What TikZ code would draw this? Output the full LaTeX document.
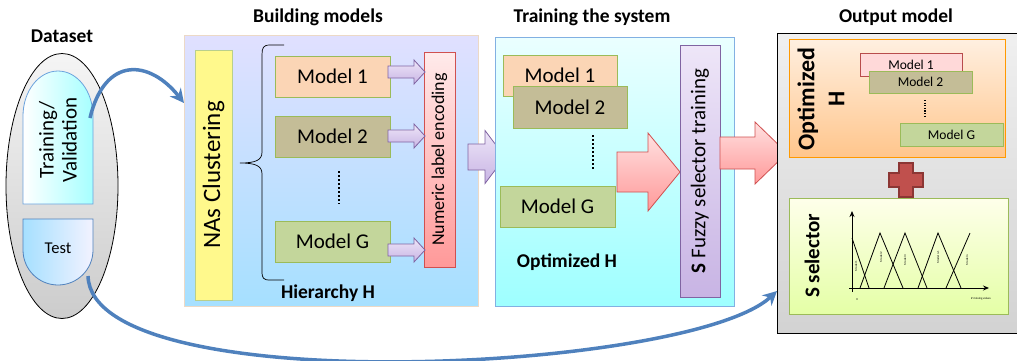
\documentclass[tikz,border=0pt]{standalone}
\usepackage{fontspec}
\setmainfont{Carlito}
\usetikzlibrary{shapes.geometric,arrows.meta,calc}
\definecolor{flow}{HTML}{4F81BD}
\definecolor{peach}{HTML}{FBD5B5}
\definecolor{olive}{HTML}{C4BD97}
\definecolor{lgreen}{HTML}{C3D69B}
\definecolor{gborder}{HTML}{9BBB59}
\definecolor{lav}{HTML}{8064A2}
\definecolor{lavtop}{HTML}{EEE6F8}
\definecolor{lavbot}{HTML}{C8B4E4}
\definecolor{redb}{HTML}{D05050}
\definecolor{crossf}{HTML}{C0504D}
\definecolor{crossd}{HTML}{8C3634}
\newcommand{\barr}[7][]{\path[#1] (#2,{#5-#6}) -- (#4,{#5-#6}) -- (#4,{#5-#7}) -- (#3,#5) -- (#4,{#5+#7}) -- (#4,{#5+#6}) -- (#2,{#5+#6}) -- cycle;}
\tikzset{
  box/.style={draw, inner sep=0pt, outer sep=0pt, anchor=north west},
  modelbox/.style={draw=gborder, line width=1pt, inner sep=0pt, minimum width=115pt, minimum height=41pt, font=\fontsize{21}{24}\selectfont},
  minibox/.style={draw=gborder, line width=1pt, inner sep=0pt, minimum width=103pt, minimum height=23pt, font=\fontsize{13.5}{15}\selectfont},
  ttl/.style={font=\fontsize{19.5}{22}\selectfont\bfseries},
  flowarrow/.style={draw=flow, line width=3.5pt, -{Stealth[length=14pt,width=14pt]}},
  lavarrow/.style={draw=lav, line width=0.8pt, top color=lavtop, bottom color=lavbot},
  redarrow/.style={draw=redb, line width=0.8pt, top color=red!12, bottom color=red!40},
  dotsline/.style={line width=2pt, dash pattern=on 1.8pt off 2.2pt},
  tiny/.style={font=\fontsize{3}{3.5}\selectfont, inner sep=0pt}
}
\begin{document}
\begin{tikzpicture}[x=1pt,y=-1pt]
\useasboundingbox (0,0) rectangle (1017,360);
% ---------- Dataset ----------
\node[ttl] (tds) at (62,36) {Dataset};
\node[ellipse, draw, line width=0.8pt, minimum width=112pt, minimum height=265pt, top color=gray!8, bottom color=gray!40] (ds) at (62,186) {};
\path[draw=cyan!60!blue!60, line width=0.8pt, left color=white, right color=cyan!35]
  (23,204) -- (23,116) arc[start angle=180,end angle=360,x radius=35,y radius=45] -- (93,204) -- cycle;
\coordinate (tvr) at (90,118);
\node[rotate=90, align=center, font=\fontsize{21}{23}\selectfont] (tv) at (58,140) {Training/\\Validation};
\path[draw=flow, line width=0.8pt, left color=blue!35!cyan!35, right color=blue!5]
  (23,219) -- (93,219) -- (93,250) arc[start angle=0,end angle=180,x radius=35,y radius=35] -- cycle;
\node[font=\fontsize{16.5}{18}\selectfont] (test) at (58,248) {Test};
\coordinate (testr) at (88,276);
% ---------- Building models ----------
\node[ttl] (tbm) at (318,17) {Building models};
\node[box, draw=brown!30, line width=0.8pt, minimum width=294pt, minimum height=271pt, top color=blue!12, bottom color=blue!35!cyan!35] (build) at (184,35) {};
\node[box, draw=gborder!70, line width=0.8pt, fill=yellow!45, minimum width=37pt, minimum height=250pt] (nas) at (195,50) {};
\node[rotate=90, font=\fontsize{25}{27}\selectfont] (nast) at (nas.center) {NAs Clustering};
\draw[line width=0.7pt] (284,45) -- (270,45) .. controls (263,45) and (262,48) .. (262,55) -- (262,152) .. controls (262,160) and (256,163) .. (240,163) .. controls (256,163) and (262,166) .. (262,174) -- (262,271) .. controls (262,278) and (263,280) .. (270,280) -- (284,280);
\node[modelbox, fill=peach] (m1) at (332.5,76.5) {Model 1};
\node[modelbox, fill=olive] (m2) at (332.5,136.5) {Model 2};
\draw[dotsline] (339,171) -- (339,204);
\node[modelbox, fill=lgreen] (mg) at (332.5,241.5) {Model G};
\node[box, draw=redb, line width=0.8pt, top color=red!8, bottom color=red!40, minimum width=31pt, minimum height=215pt] (enc) at (424,52) {};
\node[rotate=90, font=\fontsize{18}{20}\selectfont] (enct) at (enc.center) {Numeric label encoding};
\barr[lavarrow]{388}{425}{414}{72}{6}{12}
\barr[lavarrow]{388}{425}{414}{136}{6}{12}
\barr[lavarrow]{388}{425}{414}{250}{6}{12}
\node[ttl] (hier) at (328,293) {Hierarchy H};
% arrow between the boxes
\barr[lavarrow]{468}{505}{485}{157}{13}{26.5}
% ---------- Training the system ----------
\node[ttl] (tts) at (592,17) {Training the system};
\node[box, draw=cyan!60!blue!50, line width=0.8pt, minimum width=239pt, minimum height=269pt, top color=cyan!8, bottom color=cyan!38] (train) at (495,37) {};
\node[modelbox, fill=peach, minimum width=114pt] (tm1) at (560,75.5) {Model 1};
\node[modelbox, fill=olive, minimum width=114pt, minimum height=42pt] (tm2) at (570,107) {Model 2};
\draw[dotsline] (593,135) -- (593,170);
\node[modelbox, fill=lgreen] (tmg) at (557.5,206.5) {Model G};
\node[ttl] (opth) at (567,262) {Optimized H};
\barr[redarrow]{617}{680}{648}{172}{20}{39}
\node[box, draw=lav, line width=0.8pt, top color=lavtop, bottom color=lavbot, minimum width=40pt, minimum height=252pt] (fz) at (680,45) {};
\node[rotate=90, font=\fontsize{21}{23}\selectfont] (fzt) at (fz.center) {\textbf{S} Fuzzy selector training};
\barr[redarrow]{720}{787}{755}{153}{16}{31}
% ---------- Output model ----------
\node[ttl] (tom) at (896,17) {Output model};
\node[box, draw=black, line width=1pt, minimum width=245pt, minimum height=300pt, top color=gray!12, bottom color=gray!35] (out) at (777,33) {};
\node[box, draw=orange!80!yellow, line width=1pt, top color=orange!12, bottom color=orange!45, minimum width=216pt, minimum height=118pt] (ohb) at (789,39) {};
\node[rotate=90, align=center, font=\fontsize{24}{30}\selectfont\bfseries] (oht) at (821,99) {Optimized\\H};
\node[minibox, draw=red!60!black!70, fill=red!15, minimum width=102pt] (om1) at (911,64.5) {Model 1};
\node[minibox, fill=olive, minimum height=22pt] (om2) at (920.5,82) {Model 2};
\draw[line width=1.2pt, dash pattern=on 1.2pt off 1.4pt] (925,100) -- (925,118);
\node[minibox, fill=lgreen] (omg) at (951.5,134.5) {Model G};
\path[draw=crossd, line width=1.8pt, fill=crossf]
  (899,163) -- (913,163) -- (913,173) -- (923,173) -- (923,187) -- (913,187) -- (913,197) -- (899,197) -- (899,187) -- (889,187) -- (889,173) -- (899,173) -- cycle;
\node[box, draw=gborder, line width=1pt, top color=green!4!yellow!8, bottom color=green!30!yellow!35, minimum width=219pt, minimum height=116pt] (sel) at (789,198) {};
\node[rotate=90, font=\fontsize{21}{23}\selectfont\bfseries] (selt) at (812,256) {S selector};
% fuzzy plot
\coordinate (org) at (852,288);
\draw[line width=0.9pt, -{Stealth[length=6pt,width=5pt]}] (852,292) -- (852,211);
\draw[line width=0.9pt, -{Stealth[length=6pt,width=5pt]}] (849,288) -- (989,288);
\draw[line width=0.8pt] (852,238) -- (869,288);
\draw[line width=0.8pt] (860,288) -- (880,233) -- (903,288);
\draw[line width=0.8pt] (884,288) -- (905,233) -- (927,288);
\draw[line width=0.8pt] (918,288) -- (938,233) -- (961,288);
\draw[line width=0.8pt] (946,288) -- (970,233);
\node[tiny, rotate=90] (f1) at (856,266) {Model 1};
\node[tiny, rotate=90] (f2) at (881,257) {Model 2};
\node[tiny, rotate=90] (f3) at (905,260) {Model 3};
\node[tiny, rotate=90] (f4) at (938,257) {Model n-1};
\node[tiny, rotate=90] (f5) at (967,260) {Model n};
\node[tiny] (f0) at (857,300) {0};
\node[tiny] (fx) at (981,299) {\# missing values};
% ---------- flow arrows ----------
\draw[flowarrow] (tvr) .. controls (105,55) and (150,60) .. ($(build.north west)+(0,68)$);
\draw[flowarrow] (testr) .. controls (92,402) and (690,372) .. ($(out.north west)+(0,258)$);
\end{tikzpicture}
\end{document}
